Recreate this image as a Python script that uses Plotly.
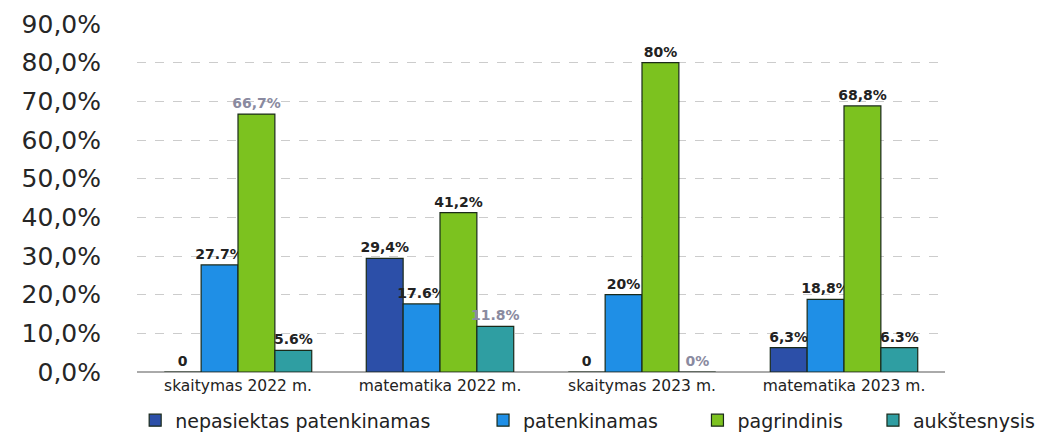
import plotly.graph_objects as go

categories = ["skaitymas 2022 m.", "matematika 2022 m.", "skaitymas 2023 m.", "matematika 2023 m."]
series_names = ["nepasiektas patenkinamas", "patenkinamas", "pagrindinis", "aukštesnysis"]
nepasiektas = [0, 29.4, 0, 6.3]
patenkinamas = [27.7, 17.6, 20, 18.8]
pagrindinis = [66.7, 41.2, 80, 68.8]
aukstesnysis = [5.6, 11.8, 0, 6.3]
labels_nep = ["0", "29,4%", "0", "6,3%"]
labels_pat = ["27.7%", "17.6%", "20%", "18,8%"]
labels_pag = ["66,7%", "41,2%", "80%", "68,8%"]
labels_auk = ["5.6%", "11.8%", "0%", "6.3%"]
tick_vals = [0, 10, 20, 30, 40, 50, 60, 70, 80, 90]
tick_text = ["0,0%", "10,0%", "20,0%", "30,0%", "40,0%", "50,0%", "60,0%", "70,0%", "80,0%", "90,0%"]

colors = ["#2C4FA8", "#1F8FE6", "#7CC21F", "#2F9EA2"]
label_colors = [
    ["#222", "#222", "#222", "#222"],
    ["#222", "#222", "#222", "#222"],
    ["#8a8aa0", "#222", "#222", "#222"],
    ["#222", "#8a8aa0", "#8a8aa0", "#222"],
]
legend_ids = ["legend", "legend2", "legend3", "legend4"]
legend_x = [0.121, 0.452, 0.656, 0.823]

fig = go.Figure()
for name, vals, labs, col, lc, lid in zip(series_names,
                                          [nepasiektas, patenkinamas, pagrindinis, aukstesnysis],
                                          [labels_nep, labels_pat, labels_pag, labels_auk],
                                          colors, label_colors, legend_ids):
    fig.add_trace(go.Bar(
        x=categories, y=vals, name=name, text=labs, legend=lid,
        textposition="outside", cliponaxis=False, constraintext="none",
        textfont=dict(family="DejaVu Sans", size=14, color=lc, weight="bold"),
        marker=dict(color=col, line=dict(color="#1a2a1a", width=1.2)),
    ))

legend_common = dict(orientation="h", xref="container", yref="container",
                     xanchor="left", y=0.05, yanchor="middle",
                     font=dict(size=19, color="#222"), itemwidth=30,
                     bgcolor="rgba(0,0,0,0)")

fig.update_layout(
    width=1051, height=434,
    barmode="group", bargap=0.27, bargroupgap=0,
    plot_bgcolor="white", paper_bgcolor="white",
    margin=dict(l=129, r=114, t=16, b=70, autoexpand=False),
    font=dict(family="DejaVu Sans", color="#222"),
    xaxis=dict(showline=False, tickfont=dict(size=15.5, color="#222"), ticks="",
               ticklabelstandoff=2),
    yaxis=dict(range=[0, 90], tickvals=tick_vals, ticktext=tick_text,
               tickfont=dict(size=25, color="#262626"), ticklabeloverflow="allow",
               showgrid=True, gridcolor="#cccccc", griddash="dash", gridwidth=1,
               zeroline=True, zerolinecolor="#aaa", ticklabelstandoff=35),
    showlegend=True,
    legend=dict(x=legend_x[0], **legend_common),
    legend2=dict(x=legend_x[1], **legend_common),
    legend3=dict(x=legend_x[2], **legend_common),
    legend4=dict(x=legend_x[3], **legend_common),
)

fig.write_html("out.html")
